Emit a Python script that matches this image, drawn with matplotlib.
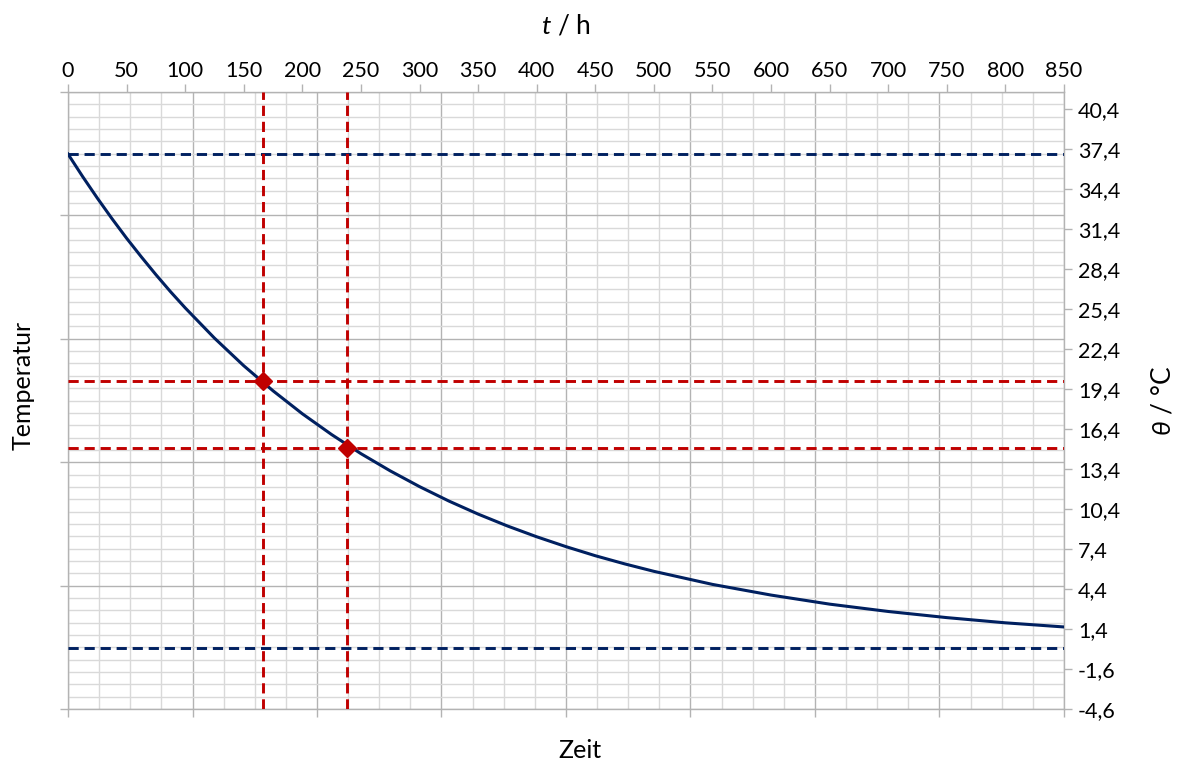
import numpy as np
import matplotlib
matplotlib.use("Agg")
import matplotlib.pyplot as plt

plt.rcParams['font.family'] = ['Lato', 'DejaVu Sans']
plt.rcParams['mathtext.fontset'] = 'custom'
plt.rcParams['mathtext.it'] = 'Lato:italic'
plt.rcParams['mathtext.rm'] = 'Lato'

# Abkuehlkurve
t_h = [0, 12.5, 25, 37.5, 50, 62.5, 75, 87.5, 100, 125, 150, 175, 200,
       225, 250, 275, 300, 325, 350, 375, 400, 425, 450, 475, 500,
       550, 600, 650, 700, 750, 800, 850]
theta = [37.0, 35.31, 33.7, 32.16, 30.69, 29.3, 27.96, 26.68, 25.47,
         23.2, 21.13, 19.25, 17.53, 15.97, 14.54, 13.25, 12.07, 10.99,
         10.01, 9.12, 8.31, 7.57, 6.89, 6.28, 5.72,
         4.74, 3.94, 3.26, 2.71, 2.25, 1.86, 1.55]

# Grenzwerte (Start- und Umgebungstemperatur)
theta_levels = [37.0, 0.0]
# markierte Punkte
mark_t = [166.5, 238.5]
mark_theta = [20.0, 15.0]

top_ticks = list(range(0, 851, 50))
right_ticks = [-4.6 + 3 * i for i in range(16)]

xmin, xmax = 0, 850
ymin, ymax = -4.6, 41.65

navy = '#002060'
red = '#c00000'
grid_major = '#b3b3b3'
grid_minor = '#d9d9d9'

fig = plt.figure(figsize=(11.84, 7.61), dpi=100)
ax = fig.add_axes([68 / 1184, 1 - 709 / 761, 996 / 1184, 617 / 761])
ax.set_xlim(xmin, xmax)
ax.set_ylim(ymin, ymax)

# Gitter
ax.set_xticks(np.linspace(xmin, xmax, 9))
ax.set_xticks(np.linspace(xmin, xmax, 33), minor=True)
ax.set_yticks(np.linspace(ymin, ymax, 6))
ax.set_yticks(np.linspace(ymin, ymax, 51), minor=True)
ax.grid(which='minor', color=grid_minor, lw=1.0, zorder=0)
ax.grid(which='major', color=grid_major, lw=1.0, zorder=0)
ax.set_axisbelow(True)
ax.tick_params(which='major', direction='out', length=6, width=1.0,
               color=grid_major, labelbottom=False, labelleft=False)
ax.tick_params(which='minor', length=0)
for s in ax.spines.values():
    s.set_color(grid_major)
    s.set_linewidth(1.0)

# Linien
for lv in theta_levels:
    ax.axhline(lv, color=navy, lw=2.1, ls=(0, (3.5, 2)), zorder=3)
for mt, mv in zip(mark_t, mark_theta):
    ax.axvline(mt, color=red, lw=2.1, ls=(0, (3.5, 2)), zorder=4)
    ax.axhline(mv, color=red, lw=2.1, ls=(0, (3.5, 2)), zorder=4)

ax.plot(t_h, theta, color=navy, lw=2.2, zorder=5)
ax.plot(mark_t, mark_theta, ls='none', marker='D', ms=9, color=red, zorder=6)

# obere Achse
secx = ax.secondary_xaxis('top')
secx.set_xticks(top_ticks)
secx.set_xticklabels([str(v) for v in top_ticks])
secx.tick_params(direction='out', length=6, width=1.0, color=grid_major,
                 labelsize=15.5, pad=2)
secx.spines['top'].set_visible(False)
secx.set_xlabel('$t$ / h', fontsize=19, labelpad=20)

# rechte Achse
secy = ax.secondary_yaxis('right')
secy.set_yticks(right_ticks)
secy.set_yticklabels([f'{v:.1f}'.replace('.', ',') for v in right_ticks])
secy.tick_params(direction='out', length=6, width=1.0, color=grid_major,
                 labelsize=15.5, pad=4)
secy.spines['right'].set_visible(False)
secy.set_ylabel(r'$\theta$ / °C', fontsize=19, labelpad=22)

ax.set_xlabel('Zeit', fontsize=18)
ax.set_ylabel('Temperatur', fontsize=18)
ax.xaxis.set_label_coords(0.514, -0.048)
ax.yaxis.set_label_coords(-0.034, 0.525)

fig.savefig('out.png', dpi=100)
